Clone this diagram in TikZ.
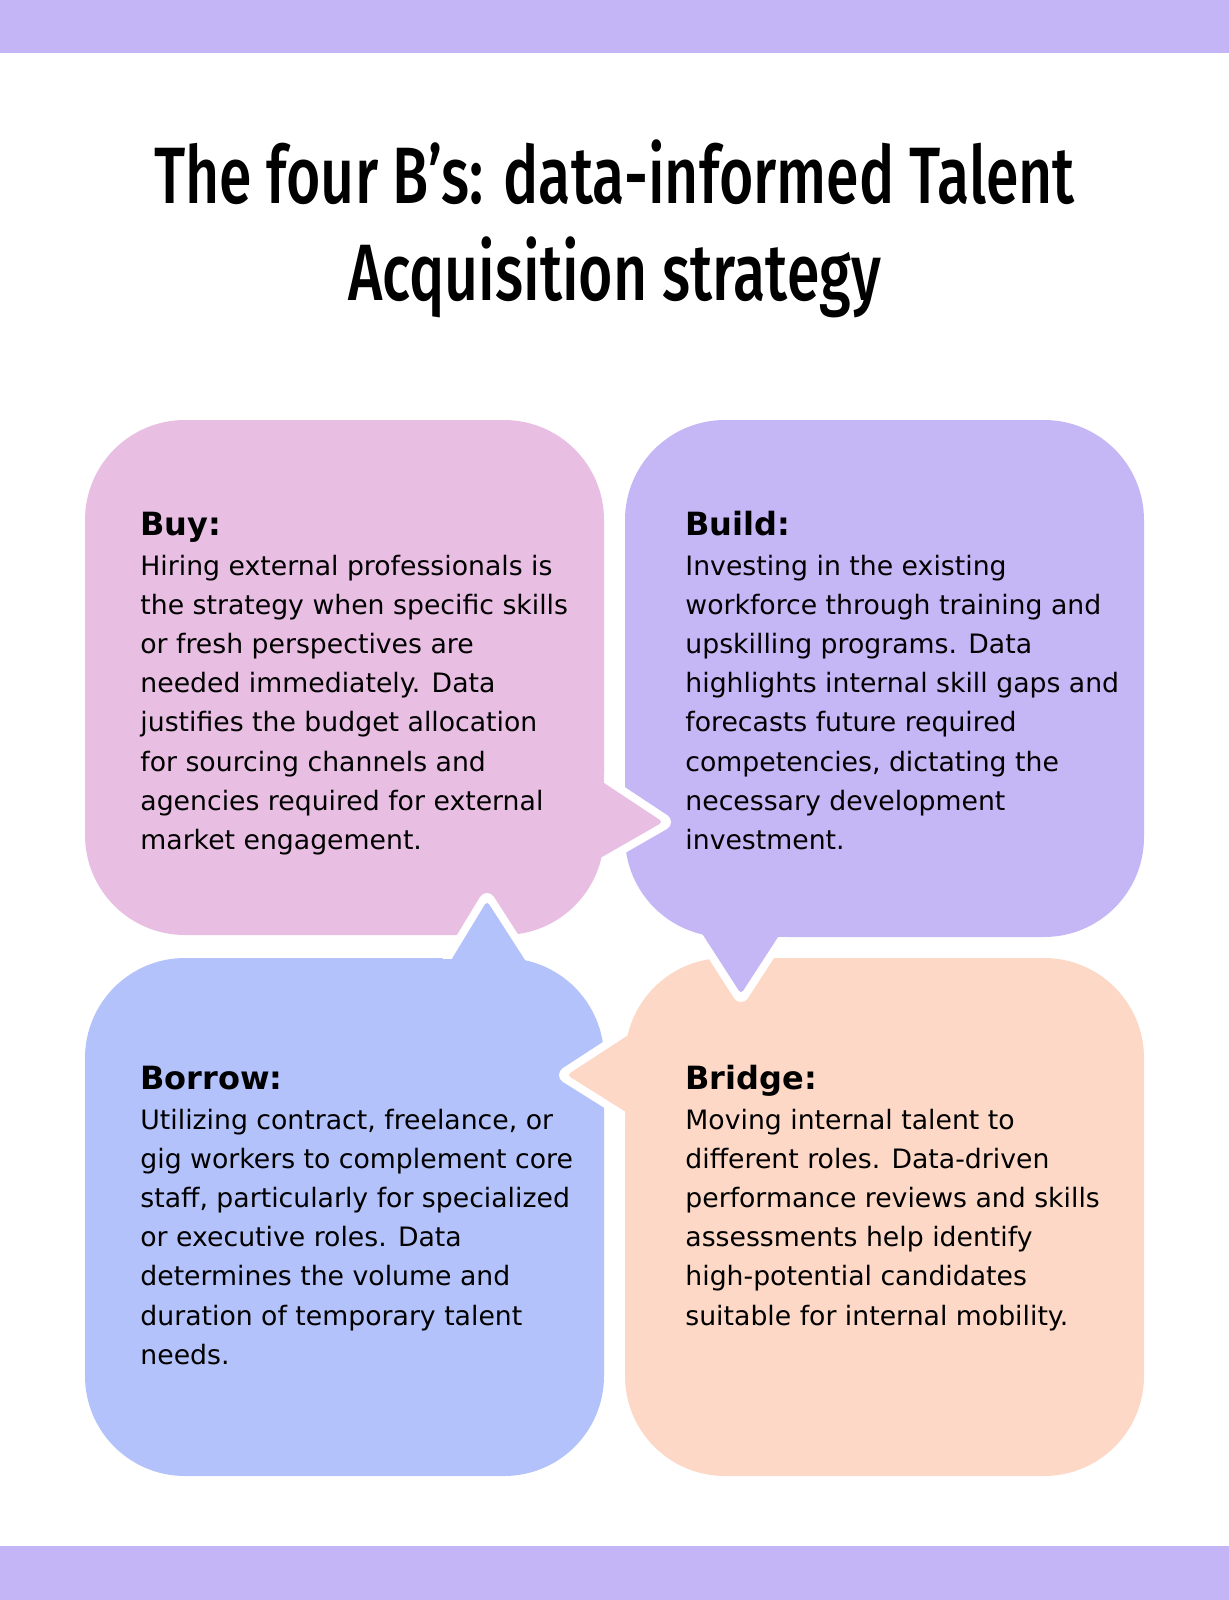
\documentclass[tikz,border=0pt]{standalone}
\usepackage{fontspec}
\setmainfont{DejaVu Sans}
\IfFontExistsTF{Fira Sans Medium}
  {\newfontfamily\titlefont{Fira Sans Medium}[FakeStretch=0.737]\newcommand\ttlweight{}}
  {\newfontfamily\titlefont{Fira Sans}[FakeStretch=0.71]\newcommand\ttlweight{\bfseries}}
\usetikzlibrary{calc}
\definecolor{barc}{HTML}{C4B5F7}
\definecolor{pinkc}{HTML}{E8BEE3}
\definecolor{purplec}{HTML}{C5B6F6}
\definecolor{bluec}{HTML}{B3C2FA}
\definecolor{peachc}{HTML}{FDD8C7}
\newcommand\bodytext[1]{\parbox[t]{260pt}{\raggedright\fontsize{13.35pt}{19.6pt}\selectfont #1}}
\begin{document}
\begin{tikzpicture}[x=0.5pt,y=-0.5pt,
  box/.style={rounded corners=50pt},
  outl/.style={draw=white,line width=8pt,line join=round},
  tail/.style={rounded corners=2pt},
  head/.style={anchor=base west,inner sep=0pt,font=\fontsize{16pt}{19pt}\selectfont\bfseries},
  body/.style={anchor=base west,inner sep=0pt},
  ttl/.style={anchor=base,inner sep=0pt,font=\titlefont\ttlweight\fontsize{40pt}{48pt}\selectfont}]
\useasboundingbox (0,0) rectangle (1229,1600);
\fill[white] (0,0) rectangle (1229,1600);
\fill[barc] (0,0) rectangle (1229,53);
\fill[barc] (0,1546) rectangle (1229,1600);

% title
\node[ttl] (t1) at (614.5,203) {The four B’s: data-informed Talent};
\node[ttl] (t2) at (614.5,300) {Acquisition strategy};

% boxes
\fill[pinkc,box] (85,420) rectangle (604,935);
\fill[purplec,box] (625,420) rectangle (1144,937);
\fill[bluec,box] (85,958) rectangle (604,1476);
\fill[peachc,box] (625,958) rectangle (1144,1476);

% tail coordinates
\coordinate (buyT) at (663,822);
\coordinate (buyA) at ($(buyT)!1.4!(604,783)$);
\coordinate (buyB) at ($(buyT)!1.4!(602,857)$);
\coordinate (bldT) at (741,994);
\coordinate (bldA) at ($(bldT)!1.4!(703,935)$);
\coordinate (bldB) at ($(bldT)!1.4!(778,937)$);
\coordinate (borT) at (487,901);
\coordinate (borA) at ($(borT)!1.4!(453,957)$);
\coordinate (borB) at ($(borT)!1.4!(525,960)$);
\coordinate (brgT) at (567,1075);
\coordinate (brgA) at ($(brgT)!1.4!(633,1032)$);
\coordinate (brgB) at ($(brgT)!1.4!(618,1107)$);

% white outlines of tails
\begin{scope}\clip (604,0) rectangle (1229,1600);
  \draw[outl] (buyA) -- (buyT) -- (buyB);\end{scope}
\begin{scope}\clip (0,937) rectangle (1229,1600);
  \draw[outl] (bldA) -- (bldT) -- (bldB);\end{scope}
\begin{scope}\clip (0,0) rectangle (1229,958);
  \draw[outl] (borA) -- (borT) -- (borB);\end{scope}
\begin{scope}\clip (0,0) rectangle (625,1600);
  \draw[outl] (brgA) -- (brgT) -- (brgB);\end{scope}

% tail fills
\fill[pinkc,tail] (buyA) -- (buyT) -- (buyB) -- cycle;
\fill[purplec,tail] (bldA) -- (bldT) -- (bldB) -- cycle;
\fill[bluec,tail] (borA) -- (borT) -- (borB) -- cycle;
\fill[peachc,tail] (brgA) -- (brgT) -- (brgB) -- cycle;

% texts
\node[head] (buyH) at (140,535) {Buy:};
\node[body] (buyX) at (140,575) {\bodytext{Hiring external professionals is\\
the strategy when specific skills\\
or fresh perspectives are\\
needed immediately. Data\\
justifies the budget allocation\\
for sourcing channels and\\
agencies required for external\\
market engagement.}};

\node[head] (bldH) at (685,535) {Build:};
\node[body] (bldX) at (685,575) {\bodytext{Investing in the existing\\
workforce through training and\\
upskilling programs. Data\\
highlights internal skill gaps and\\
forecasts future required\\
competencies, dictating the\\
necessary development\\
investment.}};

\node[head] (borH) at (140,1089) {Borrow:};
\node[body] (borX) at (140,1129) {\bodytext{Utilizing contract, freelance, or\\
gig workers to complement core\\
staff, particularly for specialized\\
or executive roles. Data\\
determines the volume and\\
duration of temporary talent\\
needs.}};

\node[head] (brgH) at (685,1089) {Bridge:};
\node[body] (brgX) at (685,1129) {\bodytext{Moving internal talent to\\
different roles. Data-driven\\
performance reviews and skills\\
assessments help identify\\
high-potential candidates\\
suitable for internal mobility.}};
\end{tikzpicture}
\end{document}
